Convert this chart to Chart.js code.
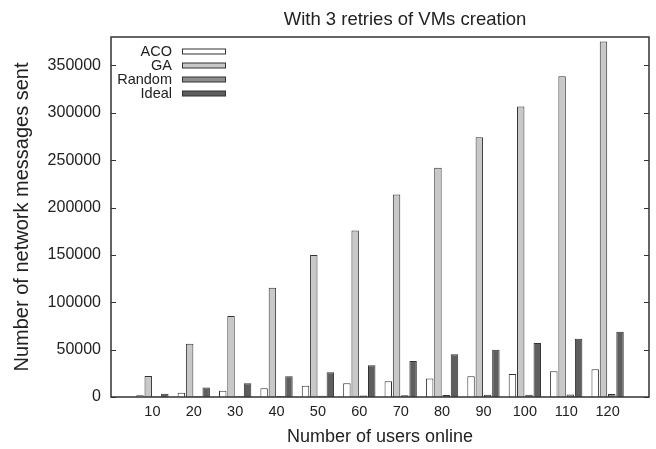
<!DOCTYPE html>
<html>
<head>
<meta charset="utf-8">
<script src="https://cdn.jsdelivr.net/npm/chart.js@4.4.0/dist/chart.umd.min.js"></script>
<style>
  html, body { margin: 0; padding: 0; background: #fff; }
  #wrap { width: 656px; height: 449px; }
</style>
</head>
<body>
<div id="wrap"><canvas id="grafico" width="656" height="449"></canvas></div>
<script>
// Datos
const categories = [10, 20, 30, 40, 50, 60, 70, 80, 90, 100, 110, 120]
const aco = [1800, 4600, 6700, 9200, 12000, 14400, 16500, 19400, 21800, 24300, 27100, 29200]
const ga = [22100, 56300, 85400, 115400, 149800, 175800, 213800, 241900, 274300, 306600, 338600, 375200]
const random = [400, 700, 900, 1100, 1400, 1600, 1800, 2100, 2300, 2500, 2600, 3200]
const ideal = [3500, 9900, 14400, 21800, 26000, 33400, 38000, 45000, 50000, 57000, 61600, 69000]
const yTicks = [0, 50000, 100000, 150000, 200000, 250000, 300000, 350000]

const titulo = "With 3 retries of VMs creation"
const fuente = "'Liberation Sans', Arial, sans-serif"
const colorTexto = "#222"
const colorBorde = "#333"

// el eje x va de 0 a 130, con una categoria vacia en cada extremo
const labels = ["", ...categories.map(String), ""]
const pad = (arr) => [null, ...arr, null]

const series = [
  { label: "ACO", data: aco, color: "#ffffff" },
  { label: "GA", data: ga, color: "#c8c8c8" },
  { label: "Random", data: random, color: "#8e8e8e" },
  { label: "Ideal", data: ideal, color: "#5e5e5e" },
]

// Marco, marcas interiores, leyenda y titulo al estilo gnuplot
const marco = {
  id: "marco",
  afterDraw(chart) {
    const { ctx, chartArea: a, scales } = chart
    ctx.save()
    ctx.strokeStyle = colorBorde
    ctx.lineWidth = 1
    // marcas del eje y, por dentro y en espejo
    scales.y.ticks.forEach((t) => {
      const y = Math.round(scales.y.getPixelForValue(t.value)) + 0.5
      ctx.beginPath()
      ctx.moveTo(a.left, y)
      ctx.lineTo(a.left + 5, y)
      ctx.moveTo(a.right, y)
      ctx.lineTo(a.right - 5, y)
      ctx.stroke()
    })
    ctx.lineWidth = 1.5
    ctx.strokeRect(a.left, a.top, a.right - a.left, a.bottom - a.top)

    // leyenda
    ctx.font = "14.5px " + fuente
    ctx.textAlign = "right"
    ctx.textBaseline = "middle"
    ctx.lineWidth = 1
    chart.data.datasets.forEach((ds, i) => {
      const y = 51.5 + i * 14
      ctx.fillStyle = colorTexto
      ctx.fillText(ds.label, 172, y)
      ctx.fillStyle = ds.backgroundColor
      ctx.fillRect(182, y - 2.5, 43, 5)
      ctx.strokeStyle = colorBorde
      ctx.strokeRect(182.5, y - 2.5, 43, 5)
    })

    // titulo
    ctx.font = "18.5px " + fuente
    ctx.fillStyle = colorTexto
    ctx.textAlign = "center"
    ctx.fillText(titulo, 405, 20)
    ctx.restore()
  },
}

const ctx = document.getElementById("grafico").getContext("2d")
const grafico = new Chart(ctx, {
  type: "bar",
  data: {
    labels: labels,
    datasets: series.map((s) => ({
      label: s.label,
      data: pad(s.data),
      backgroundColor: s.color,
      borderColor: colorBorde,
      borderWidth: 1,
      categoryPercentage: 0.8,
      barPercentage: 0.9,
    })),
  },
  options: {
    responsive: false,
    animation: false,
    devicePixelRatio: 1,
    layout: { padding: { top: 37, right: 7, left: 0, bottom: 0 } },
    plugins: {
      legend: { display: false },
      tooltip: { enabled: false },
    },
    scales: {
      x: {
        offset: false,
        grid: { display: false, drawTicks: false, offset: false },
        border: { display: false },
        ticks: {
          autoSkip: false,
          maxRotation: 0,
          padding: 6.5,
          color: colorTexto,
          font: { family: fuente, size: 14.5 },
        },
        title: {
          display: true,
          text: "Number of users online",
          color: colorTexto,
          font: { family: fuente, size: 18 },
          padding: { top: 0, bottom: 1 },
        },
        afterFit: (s) => { s.height = 52 },
      },
      y: {
        min: 0,
        max: 380000,
        grid: { display: false, drawTicks: false },
        border: { display: false },
        afterBuildTicks: (s) => { s.ticks = yTicks.map((v) => ({ value: v })) },
        ticks: {
          padding: 10,
          color: colorTexto,
          font: { family: fuente, size: 16 },
          callback: (v) => String(v),
        },
        title: {
          display: true,
          text: "Number of network messages sent",
          color: colorTexto,
          font: { family: fuente, size: 20 },
          padding: { top: 10.5, bottom: 0 },
        },
        afterFit: (s) => { s.width = 111 },
      },
    },
  },
  plugins: [marco],
})
</script>
</body>
</html>
